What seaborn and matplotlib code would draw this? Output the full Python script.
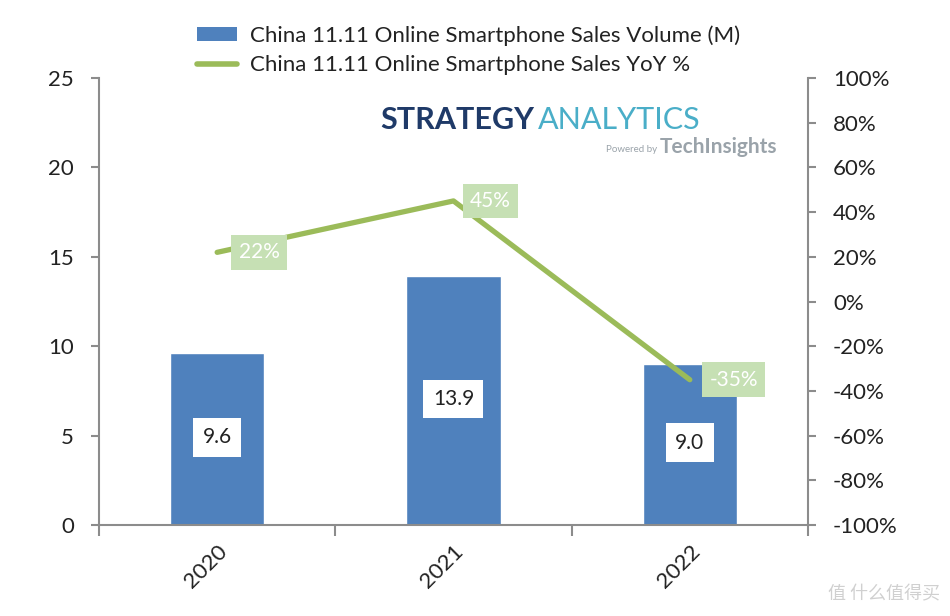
import numpy as np
import pandas as pd
import matplotlib
matplotlib.use("Agg")
import matplotlib.pyplot as plt
import seaborn as sns
from matplotlib.patches import Patch
from matplotlib.lines import Line2D

years = ["2020", "2021", "2022"]
volume = [9.6, 13.9, 9.0]
yoy = [22, 45, -35]
legend_labels = ["China 11.11 Online Smartphone Sales Volume (M)",
                 "China 11.11 Online Smartphone Sales YoY %"]

BAR_COLOR = "#4f81bd"
LINE_COLOR = "#9bbb59"
SPINE = "#8c8c8c"
TXT = "#222222"

sns.set_style("white")
plt.rcParams["font.family"] = ["Lato", "DejaVu Sans"]

datos = pd.DataFrame({"year": years, "volume": volume, "yoy": yoy})

fig = plt.figure(figsize=(9.5, 6.16), dpi=100)
ax = fig.add_axes([0.1042, 0.1477, 0.7463, 0.7257])

sns.barplot(data=datos, x="year", y="volume", color=BAR_COLOR, width=0.4,
            saturation=1, ax=ax)
ax.set_xlim(-0.5, len(years) - 0.5)
ax.set_ylim(0, 25)
ax.set_yticks(range(0, 26, 5))
ax.set_xlabel("")
ax.set_ylabel("")

# etiquetas de las barras (centradas)
for i, v in enumerate(volume):
    ax.text(i, v / 2 + 0.1, f"{v:.1f}", ha="center", va="center",
            fontsize=15, color=TXT,
            bbox=dict(boxstyle="square,pad=0.45", fc="white", ec="none"))

ax2 = ax.twinx()
sns.lineplot(x=np.arange(len(years)), y=yoy, color=LINE_COLOR, linewidth=3.8,
             ax=ax2)
ax2.set_ylim(-100, 100)
ax2.set_yticks(range(-100, 101, 20))
ax2.set_yticklabels([f"{t}%" for t in range(-100, 101, 20)])

offsets = [0.178, 0.157, 0.186]
for i, v in enumerate(yoy):
    ax2.text(i + offsets[i], v, f"{v}%", ha="center", va="center",
             fontsize=15, color="white",
             bbox=dict(boxstyle="square,pad=0.35", fc="#c6e0b4", ec="none"))

for a in (ax, ax2):
    for s in a.spines.values():
        s.set_color(SPINE)
        s.set_linewidth(1.5)
    a.spines["top"].set_visible(False)

ax.spines["right"].set_visible(False)
ax2.spines["left"].set_visible(False)
ax2.spines["bottom"].set_visible(False)

ax.tick_params(axis="y", left=True, length=6, width=1.5, color=SPINE,
               labelsize=16, labelcolor=TXT, pad=12)
ax2.tick_params(axis="y", right=True, length=6, width=1.5, color=SPINE,
                labelsize=16, labelcolor=TXT, pad=12)
ax.set_xticks(range(len(years)))
ax.set_xticklabels(years, rotation=45, fontsize=16, color=TXT,
                   ha="right", rotation_mode="anchor")
ax.tick_params(axis="x", which="major", length=0, pad=12)
ax.set_xticks(np.arange(-0.5, len(years), 1), minor=True)
ax.tick_params(axis="x", which="minor", bottom=True, length=8, width=1.5,
               color=SPINE)

# leyenda
handles = [Patch(facecolor=BAR_COLOR, edgecolor="none"),
           Line2D([0], [0], color=LINE_COLOR, linewidth=4)]
fig.legend(handles, legend_labels, loc="upper left",
           bbox_to_anchor=(0.198, 0.973), frameon=False, fontsize=16,
           labelcolor=TXT, handlelength=1.8, handleheight=0.6,
           handletextpad=0.6, labelspacing=0.4, borderaxespad=0)

# logo
logo = fig.text(0.4, 0.805, "STRATEGY", fontsize=22, fontweight="bold",
                color="#1f3a68", ha="left", va="center")
fig.canvas.draw()
bb = logo.get_window_extent().transformed(fig.transFigure.inverted())
fig.text(bb.x1 + 0.004, 0.805, "ANALYTICS", fontsize=22, color="#4aaec8",
         ha="left", va="center")
fig.text(0.638, 0.758, "Powered by", fontsize=7, color="#9aa3aa",
         ha="left", va="center")
fig.text(0.818, 0.762, "TechInsights", fontsize=15, fontweight="bold",
         color="#9aa3aa", ha="right", va="center")

# marca de agua
fig.text(0.99, 0.02, "值 什么值得买", fontsize=13, color="#d0d0d0",
         ha="right", va="bottom", family=["Noto Sans CJK SC", "DejaVu Sans"])

fig.savefig("out.png", dpi=100)
